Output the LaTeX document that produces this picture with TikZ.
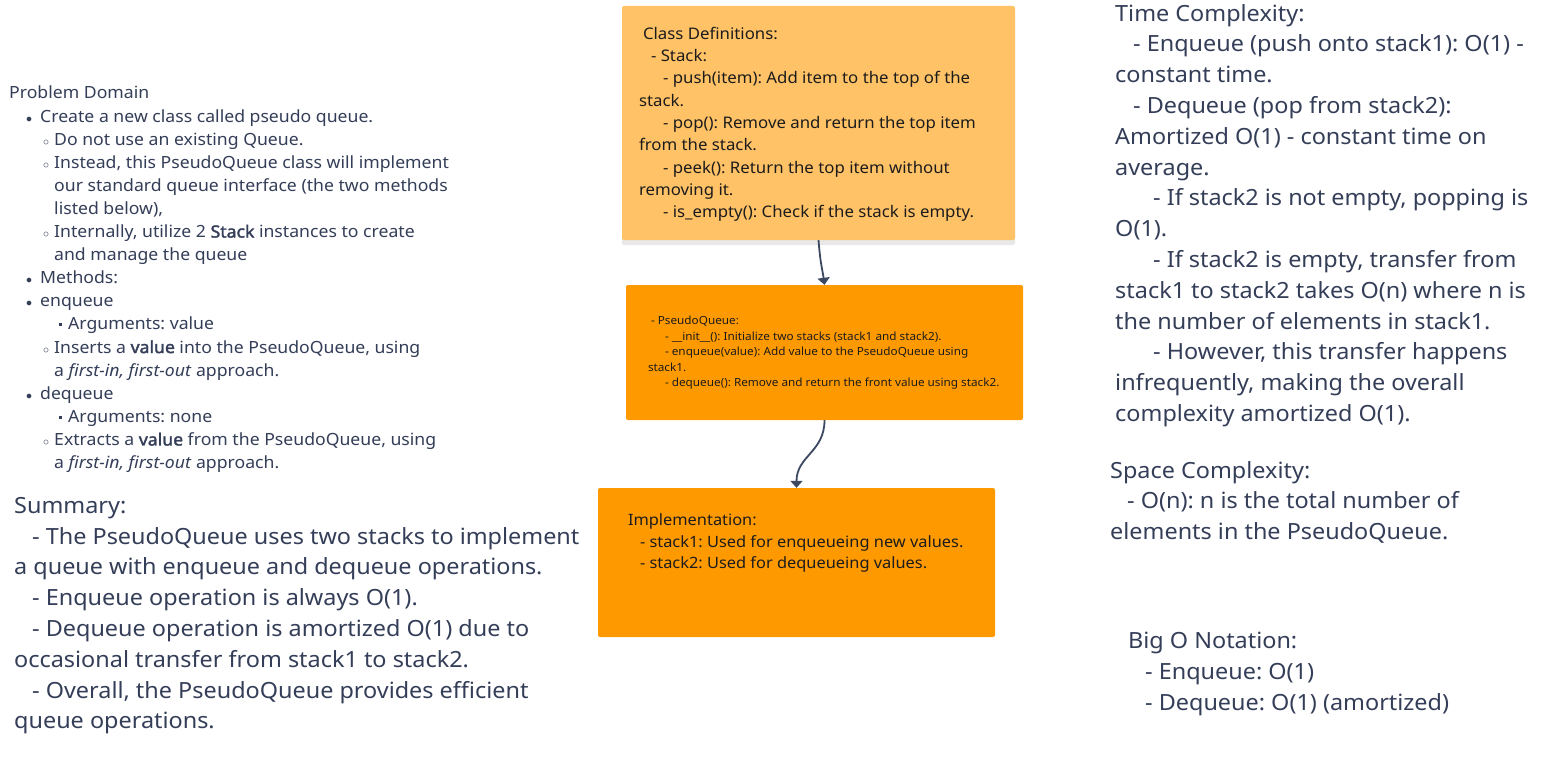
\documentclass[tikz,border=0pt]{standalone}
\usepackage{fontspec}
\setmainfont{Noto Sans}[FakeStretch=1.05]
\usetikzlibrary{positioning,arrows.meta,shadows}
\definecolor{noteInk}{RGB}{52,62,88}
\definecolor{boxInk}{RGB}{28,28,28}
\definecolor{linkInk}{RGB}{60,72,98}
\definecolor{stickyLight}{RGB}{255,194,102}
\definecolor{stickyOrange}{RGB}{255,153,0}
\frenchspacing
\newcommand{\boldWord}[1]{{\addfontfeatures{FakeBold=2}#1}}
% list prefixes for the problem domain
\newcommand{\bulA}{\hspace*{17pt}\makebox[14pt][l]{$\scriptstyle\bullet$}}
\newcommand{\bulB}{\hspace*{34pt}\makebox[11pt][l]{$\scriptstyle\circ$}}
\newcommand{\bulC}{\hspace*{50pt}\makebox[9pt][l]{\raisebox{3.5pt}{\rule{3pt}{3pt}}}}
\newcommand{\bulCont}{\hspace*{45pt}}
\begin{document}
\begin{tikzpicture}[
  x=1pt, y=-1pt,
  every node/.style={inner sep=0pt, align=left},
  sticky/.style={rounded corners=2pt, draw=none},
  clsbox/.style={sticky, fill=stickyLight, minimum width=393pt, minimum height=234pt,
                 drop shadow={shadow xshift=0pt, shadow yshift=-5pt, opacity=0.18}},
  codebox/.style={sticky, fill=stickyOrange},
  boxtxt/.style={text=boxInk, anchor=north west},
  note/.style={text=noteInk, anchor=north west, font=\fontsize{22.3}{30.8}\selectfont},
  link/.style={-{Triangle[width=12pt,length=7pt]}, line width=1.8pt, linkInk}
]
\useasboundingbox[fill=white] (0,0) rectangle (1562,757);

% sticky boxes in the middle
\node[clsbox] (cls) at (818.5,123) {};
\node[codebox, minimum width=397pt, minimum height=135pt] (pq)   at (824.5,352.5) {};
\node[codebox, minimum width=397pt, minimum height=149pt] (impl) at (796.5,562.5) {};

\node[boxtxt, font=\fontsize{16}{22.3}\selectfont] (clsTxt) at ([shift={(17,21)}]cls.north west)
  {\hspace*{4pt}Class Definitions:\\
   \hspace*{12pt}- Stack:\\
   \hspace*{24pt}- push(item): Add item to the top of the\\
   stack.\\
   \hspace*{24pt}- pop(): Remove and return the top item\\
   from the stack.\\
   \hspace*{24pt}- peek(): Return the top item without\\
   removing it.\\
   \hspace*{24pt}- is\_empty(): Check if the stack is empty.};

\node[boxtxt, font=\fontsize{11.2}{15.5}\selectfont] (pqTxt) at ([shift={(22,31)}]pq.north west)
  {\hspace*{3pt}- PseudoQueue:\\
   \hspace*{17pt}- \_\_init\_\_(): Initialize two stacks (stack1 and stack2).\\
   \hspace*{17pt}- enqueue(value): Add value to the PseudoQueue using\\
   stack1.\\
   \hspace*{17pt}- dequeue(): Remove and return the front value using stack2.};

\node[boxtxt, font=\fontsize{15.6}{21.5}\selectfont] (implTxt) at ([shift={(30,26)}]impl.north west)
  {Implementation:\\
   \hspace*{12pt}- stack1: Used for enqueueing new values.\\
   \hspace*{12pt}- stack2: Used for dequeueing values.};

\draw[link] (cls.south) .. controls +(2,25) and +(-2,-15) .. (pq.north);
\draw[link] (pq.south)  .. controls +(0,32) and +(0,-32) .. (impl.north);

% left column
\node[note, font=\fontsize{16.8}{23.1}\selectfont] (domain) at (9,86)
  {Problem Domain\\
   \bulA Create a new class called pseudo queue.\\
   \bulB Do not use an existing Queue.\\
   \bulB Instead, this PseudoQueue class will implement\\
   \bulCont our standard queue interface (the two methods\\
   \bulCont listed below),\\
   \bulB Internally, utilize 2 \boldWord{Stack} instances to create\\
   \bulCont and manage the queue\\
   \bulA Methods:\\
   \bulA enqueue\\
   \bulC Arguments: value\\
   \bulB Inserts a \boldWord{value} into the PseudoQueue, using\\
   \bulCont a \textit{first-in, first-out} approach.\\
   \bulA dequeue\\
   \bulC Arguments: none\\
   \bulB Extracts a \boldWord{value} from the PseudoQueue, using\\
   \bulCont a \textit{first-in, first-out} approach.};

\node[note] (summary) at (14,497)
  {Summary:\\
   \hspace*{18pt}- The PseudoQueue uses two stacks to implement\\
   a queue with enqueue and dequeue operations.\\
   \hspace*{18pt}- Enqueue operation is always O(1).\\
   \hspace*{18pt}- Dequeue operation is amortized O(1) due to\\
   occasional transfer from stack1 to stack2.\\
   \hspace*{18pt}- Overall, the PseudoQueue provides efficient\\
   queue operations.};

% right column
\node[note] (timeCx) at (1115,4)
  {Time Complexity:\\
   \hspace*{18pt}- Enqueue (push onto stack1): O(1) -\\
   constant time.\\
   \hspace*{18pt}- Dequeue (pop from stack2):\\
   Amortized O(1) - constant time on\\
   average.\\
   \hspace*{38pt}- If stack2 is not empty, popping is\\
   O(1).\\
   \hspace*{38pt}- If stack2 is empty, transfer from\\
   stack1 to stack2 takes O(n) where n is\\
   the number of elements in stack1.\\
   \hspace*{38pt}- However, this transfer happens\\
   infrequently, making the overall\\
   complexity amortized O(1).};

\node[note] (spaceCx) at (1110,461)
  {Space Complexity:\\
   \hspace*{17pt}- O(n): n is the total number of\\
   elements in the PseudoQueue.};

\node[note] (bigO) at (1128,632)
  {Big O Notation:\\
   \hspace*{17pt}- Enqueue: O(1)\\
   \hspace*{17pt}- Dequeue: O(1) (amortized)};
\end{tikzpicture}
\end{document}
